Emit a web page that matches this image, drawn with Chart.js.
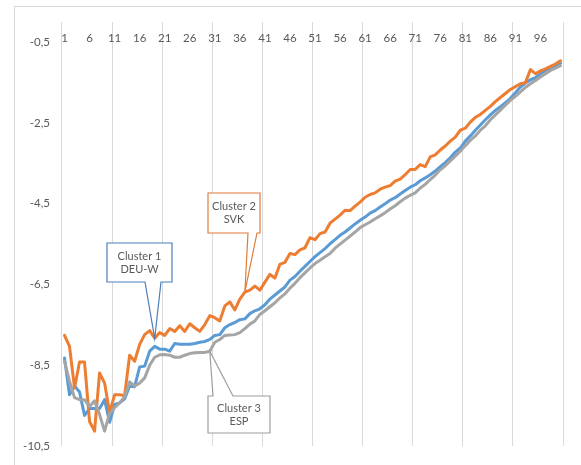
<!DOCTYPE html>
<html>
<head>
<meta charset="utf-8">
<script src="https://cdn.jsdelivr.net/npm/chart.js@4"></script>
<style>
  html, body { margin: 0; padding: 0; background: #ffffff; }
  #wrap { width: 581px; height: 465px; position: relative; }
</style>
</head>
<body>
<div id="wrap"><canvas id="c" width="581" height="465"></canvas></div>
<script>
// Categories 1..100 along the horizontal axis
const categories = [
  1,2,3,4,5,6,7,8,9,10,11,12,13,14,15,16,17,18,19,20,
  21,22,23,24,25,26,27,28,29,30,31,32,33,34,35,36,37,38,39,40,
  41,42,43,44,45,46,47,48,49,50,51,52,53,54,55,56,57,58,59,60,
  61,62,63,64,65,66,67,68,69,70,71,72,73,74,75,76,77,78,79,80,
  81,82,83,84,85,86,87,88,89,90,91,92,93,94,95,96,97,98,99,100
];

// Cluster 1 – DEU-W
const cluster1 = [
  -8.32,-9.23,-9.01,-9.16,-9.74,-9.57,-9.57,-9.57,-9.35,-9.91,
  -9.47,-9.43,-9.33,-9.01,-9.03,-8.54,-8.52,-8.15,-8.03,-8.10,
  -8.10,-8.15,-7.96,-7.98,-7.98,-7.98,-7.96,-7.93,-7.91,-7.86,
  -7.76,-7.74,-7.57,-7.49,-7.44,-7.37,-7.35,-7.22,-7.15,-7.10,
  -7.00,-6.86,-6.76,-6.66,-6.56,-6.39,-6.30,-6.17,-6.05,-5.93,
  -5.81,-5.71,-5.61,-5.49,-5.39,-5.28,-5.20,-5.10,-5.00,-4.91,
  -4.83,-4.73,-4.67,-4.58,-4.50,-4.41,-4.35,-4.26,-4.17,-4.09,
  -4.03,-3.93,-3.86,-3.78,-3.69,-3.58,-3.48,-3.36,-3.22,-3.12,
  -2.95,-2.82,-2.68,-2.55,-2.42,-2.30,-2.19,-2.10,-2.00,-1.89,
  -1.75,-1.61,-1.51,-1.43,-1.38,-1.28,-1.20,-1.14,-1.08,-1.02
];

// Cluster 2 – SVK
const cluster2 = [
  -7.76,-8.03,-9.06,-8.42,-8.42,-9.89,-10.13,-8.69,-8.94,-9.67,
  -9.23,-9.23,-9.25,-8.25,-8.40,-7.98,-7.74,-7.64,-7.83,-7.69,
  -7.76,-7.59,-7.66,-7.52,-7.66,-7.47,-7.57,-7.66,-7.49,-7.27,
  -7.32,-7.40,-7.03,-6.93,-7.13,-6.86,-6.69,-6.64,-6.54,-6.64,
  -6.44,-6.25,-6.34,-6.00,-5.95,-5.73,-5.76,-5.64,-5.59,-5.34,
  -5.39,-5.24,-5.20,-4.98,-4.88,-4.78,-4.66,-4.67,-4.56,-4.46,
  -4.34,-4.27,-4.23,-4.14,-4.09,-4.05,-3.94,-3.89,-3.78,-3.65,
  -3.65,-3.53,-3.58,-3.34,-3.29,-3.17,-3.07,-2.95,-2.85,-2.68,
  -2.63,-2.48,-2.36,-2.29,-2.19,-2.09,-1.97,-1.87,-1.77,-1.67,
  -1.60,-1.53,-1.50,-1.18,-1.28,-1.21,-1.16,-1.10,-1.04,-0.96
];

// Cluster 3 – ESP
const cluster3 = [
  -8.40,-8.89,-9.30,-9.35,-9.35,-9.52,-9.38,-9.72,-10.13,-9.69,
  -9.55,-9.43,-9.28,-8.91,-9.01,-8.94,-8.81,-8.50,-8.30,-8.24,
  -8.23,-8.25,-8.30,-8.30,-8.25,-8.21,-8.19,-8.18,-8.18,-8.15,
  -7.93,-7.86,-7.76,-7.75,-7.74,-7.69,-7.59,-7.48,-7.40,-7.24,
  -7.15,-7.05,-6.95,-6.83,-6.73,-6.59,-6.47,-6.33,-6.21,-6.09,
  -5.98,-5.90,-5.81,-5.73,-5.60,-5.50,-5.40,-5.30,-5.20,-5.09,
  -5.02,-4.95,-4.87,-4.80,-4.72,-4.63,-4.55,-4.45,-4.36,-4.29,
  -4.23,-4.11,-4.02,-3.90,-3.79,-3.66,-3.56,-3.44,-3.32,-3.20,
  -3.06,-2.93,-2.82,-2.68,-2.57,-2.42,-2.30,-2.18,-2.06,-1.94,
  -1.84,-1.73,-1.62,-1.53,-1.45,-1.36,-1.28,-1.20,-1.14,-1.08
];

// Axis labels
const xTickLabels = ["1","6","11","16","21","26","31","36","41","46","51","56","61","66","71","76","81","86","91","96"];
const yTicks = [-10.5, -8.5, -6.5, -4.5, -2.5, -0.5];
const yTickLabels = ["-10,5", "-8,5", "-6,5", "-4,5", "-2,5", "-0,5"];

const FONT = 'Lato, "Open Sans", sans-serif';
const TEXT_COLOR = '#595959';
const GRID_COLOR = '#d9d9d9';

// Callout boxes (box: left, top, width, height; base: x positions where the pointer leaves the box)
const callouts = [
  { lines: ["Cluster 1", "DEU-W"], stroke: '#4a7ebb', box: [107, 243, 65, 39], side: 'bottom', base: [145, 161], dataset: 1, index: 18 },
  { lines: ["Cluster 2", "SVK"],   stroke: '#e07b39', box: [208, 193, 52, 40], side: 'bottom', base: [248, 257], dataset: 1, index: 36 },
  { lines: ["Cluster 3", "ESP"],   stroke: '#9e9e9e', box: [208, 396, 62, 37], side: 'top',    base: [213, 233], dataset: 2, index: 29 }
];

// Outer chart-area frame
const framePlugin = {
  id: 'frame',
  beforeDraw(chart) {
    const ctx = chart.ctx;
    ctx.save();
    ctx.fillStyle = '#ffffff';
    ctx.fillRect(0, 0, chart.width, chart.height);
    ctx.strokeStyle = GRID_COLOR;
    ctx.lineWidth = 1;
    ctx.strokeRect(14.5, 6.5, chart.width + 20, chart.height + 20);
    ctx.restore();
  }
};

// Category labels printed inside the top of the plot area
const topLabelsPlugin = {
  id: 'topLabels',
  afterDatasetsDraw(chart) {
    const ctx = chart.ctx;
    const xs = chart.scales.x;
    const top = chart.chartArea.top;
    ctx.save();
    ctx.font = '11.5px ' + FONT;
    ctx.fillStyle = TEXT_COLOR;
    ctx.textAlign = 'center';
    ctx.textBaseline = 'middle';
    xTickLabels.forEach(lbl => {
      const idx = categories.indexOf(Number(lbl));
      ctx.fillText(lbl, xs.getPixelForValue(idx), top + 16);
    });
    ctx.restore();
  }
};

// Data callouts pointing at series points
const calloutPlugin = {
  id: 'callouts',
  afterDraw(chart) {
    const ctx = chart.ctx;
    ctx.save();
    callouts.forEach(c => {
      const pt = chart.getDatasetMeta(c.dataset).data[c.index];
      const [L, T, W, H] = c.box;
      const R = L + W, B = T + H;
      ctx.beginPath();
      if (c.side === 'bottom') {
        ctx.moveTo(L, T);
        ctx.lineTo(R, T);
        ctx.lineTo(R, B);
        ctx.lineTo(c.base[1], B);
        ctx.lineTo(pt.x, pt.y);
        ctx.lineTo(c.base[0], B);
        ctx.lineTo(L, B);
      } else {
        ctx.moveTo(L, T);
        ctx.lineTo(c.base[0], T);
        ctx.lineTo(pt.x, pt.y);
        ctx.lineTo(c.base[1], T);
        ctx.lineTo(R, T);
        ctx.lineTo(R, B);
        ctx.lineTo(L, B);
      }
      ctx.closePath();
      ctx.fillStyle = '#ffffff';
      ctx.fill();
      ctx.lineWidth = 1.2;
      ctx.strokeStyle = c.stroke;
      ctx.lineJoin = 'miter';
      ctx.stroke();

      ctx.fillStyle = TEXT_COLOR;
      ctx.font = '11px ' + FONT;
      ctx.textAlign = 'center';
      ctx.textBaseline = 'middle';
      const cx = L + W / 2, cy = T + H / 2;
      ctx.fillText(c.lines[0], cx, cy - 6.5);
      ctx.fillText(c.lines[1], cx, cy + 6.5);
    });
    ctx.restore();
  }
};

const lineStyle = {
  borderWidth: 3,
  pointRadius: 0,
  pointHoverRadius: 0,
  tension: 0,
  fill: false,
  borderJoinStyle: 'round',
  borderCapStyle: 'round'
};

new Chart(document.getElementById('c'), {
  type: 'line',
  data: {
    labels: categories.map(String),
    datasets: [
      Object.assign({ label: 'Cluster 1 DEU-W', data: cluster1, borderColor: '#5b9bd5', order: 2 }, lineStyle),
      Object.assign({ label: 'Cluster 2 SVK',   data: cluster2, borderColor: '#ed7d31', order: 1 }, lineStyle),
      Object.assign({ label: 'Cluster 3 ESP',   data: cluster3, borderColor: '#a5a5a5', order: 0 }, lineStyle)
    ]
  },
  options: {
    responsive: false,
    animation: false,
    events: [],
    layout: { padding: { left: 14, top: 22, right: 18, bottom: 13 } },
    plugins: { legend: { display: false }, tooltip: { enabled: false } },
    scales: {
      x: {
        type: 'category',
        offset: true,
        border: { display: false },
        grid: {
          offset: true,
          drawTicks: false,
          lineWidth: 1,
          color: (ctx) => (ctx.index === undefined || ctx.index % 10 === 0) ? GRID_COLOR : 'rgba(0,0,0,0)'
        },
        ticks: { display: false, autoSkip: false }
      },
      y: {
        min: -10.5,
        max: 0,
        border: { display: false },
        grid: { display: false, drawTicks: false },
        afterBuildTicks: (scale) => { scale.ticks = yTicks.map(v => ({ value: v })); },
        afterFit: (scale) => { scale.width = 48; },
        ticks: {
          padding: 12,
          color: TEXT_COLOR,
          font: { family: FONT, size: 11.5 },
          callback: (value, index) => yTickLabels[index]
        }
      }
    }
  },
  plugins: [framePlugin, topLabelsPlugin, calloutPlugin]
});
</script>
</body>
</html>
